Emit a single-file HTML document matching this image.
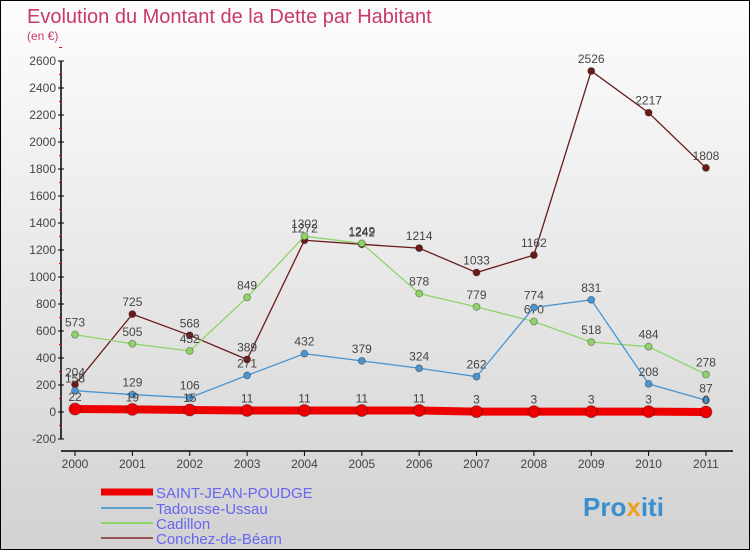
<!DOCTYPE html>
<html><head><meta charset="utf-8"><style>
html,body{margin:0;padding:0}
body{width:750px;height:550px;overflow:hidden;font-family:"Liberation Sans",sans-serif}
#wrap{position:relative;width:748px;height:548px;border:1px solid #000;background:linear-gradient(#fdfdfd,#d2d2d2)}
</style></head><body>
<div id="wrap">
<svg id="chart" width="748" height="548">
<text x="26" y="22" font-size="20" fill="#c8386a">Evolution du Montant de la Dette par Habitant</text>
<text x="26" y="39" font-size="12" fill="#c8386a">(en €)</text>
<g id="axes"></g><g id="series"></g>
<g>
<line x1="100" y1="491" x2="152" y2="491" stroke="#e00" stroke-width="7"/>
<text x="155" y="497" font-size="15" fill="#6666ee">SAINT-JEAN-POUDGE</text>
<line x1="100" y1="507" x2="152" y2="507" stroke="#5a9fd0" stroke-width="2"/>
<text x="155" y="513" font-size="15" fill="#6666ee">Tadousse-Ussau</text>
<line x1="100" y1="522" x2="152" y2="522" stroke="#8fd36a" stroke-width="2"/>
<text x="155" y="528" font-size="15" fill="#6666ee">Cadillon</text>
<line x1="100" y1="537" x2="152" y2="537" stroke="#955" stroke-width="2"/>
<text x="155" y="543" font-size="15" fill="#6666ee">Conchez-de-Béarn</text>
</g>
<text x="582" y="515" font-size="26" font-weight="bold" fill="#3a8fd0">Pro<tspan fill="#f0a020">x</tspan><tspan fill="#3a8fd0">iti</tspan></text>
</svg></div>
<script>
const years=["2000","2001","2002","2003","2004","2005","2006","2007","2008","2009","2010","2011"];
const yTicks=[-200,0,200,400,600,800,1000,1200,1400,1600,1800,2000,2200,2400,2600];
const sjp=[22,19,15,11,11,11,11,3,3,3,3,0];
const tadousse=[158,129,106,271,432,379,324,262,774,831,208,87];
const cadillon=[573,505,452,849,1302,1249,878,779,670,518,484,278];
const conchez=[204,725,568,389,1272,1242,1214,1033,1162,2526,2217,1808];
const NS="http://www.w3.org/2000/svg";
const xS=i=>74+i*57.36;
const yS=v=>411-v*0.135;
function mk(tag,attrs,parent){const e=document.createElementNS(NS,tag);for(const k in attrs)e.setAttribute(k,attrs[k]);parent.appendChild(e);return e;}
const ax=document.getElementById('axes');
const yl=mk('line',{x1:60,y1:yS(2600),x2:60,y2:yS(-200),stroke:'#000','stroke-width':1.5},ax);


const xl=mk('line',{x1:60,y1:450,x2:732,y2:450,stroke:'#000','stroke-width':1.5},ax);


yTicks.forEach(v=>{
  mk('line',{x1:57,x2:63,y1:yS(v),y2:yS(v),stroke:'#000'},ax);
  mk('line',{x1:58,x2:61,y1:yS(v+100),y2:yS(v+100),stroke:'#e00'},ax);
  const t=mk('text',{x:55,y:yS(v)+4,'font-size':12,'text-anchor':'end',fill:'#444'},ax);
  t.textContent=v;
  
  
});
years.forEach((y,i)=>{
  mk('line',{x1:xS(i),x2:xS(i),y1:450,y2:455,stroke:'#000'},ax);
  const t=mk('text',{x:xS(i),y:467,'font-size':12,'text-anchor':'middle',fill:'#444'},ax);
  t.textContent=y;
  
  
});
const sg=document.getElementById('series');
function draw(vals,color,w,r,name,labels){
  const g=mk('g',{},sg);
  
  
  mk('polyline',{points:vals.map((v,i)=>xS(i)+','+yS(v)).join(' '),fill:'none',stroke:color,'stroke-width':w},g);
  vals.forEach((v,i)=>{
    const c=mk('circle',{cx:xS(i),cy:yS(v),r:r,fill:color,stroke:'rgba(0,0,0,0.3)'},g);
    
    
    if(labels){const t=mk('text',{x:xS(i),y:yS(v)-8,'font-size':12,'text-anchor':'middle',fill:'#444'},g);t.textContent=v;
    
    }
  });
}
draw(conchez,'#6b1a1a',1.3,3.5,'conchez-de-bearn',true);
draw(cadillon,'#8fd36a',1.3,3.5,'cadillon',true);
draw(tadousse,'#4a95d0',1.3,3.5,'tadousse-ussau',true);
draw(sjp,'#ee0000',8,6,'saint-jean-poudge',true);
</script>
</body></html>
